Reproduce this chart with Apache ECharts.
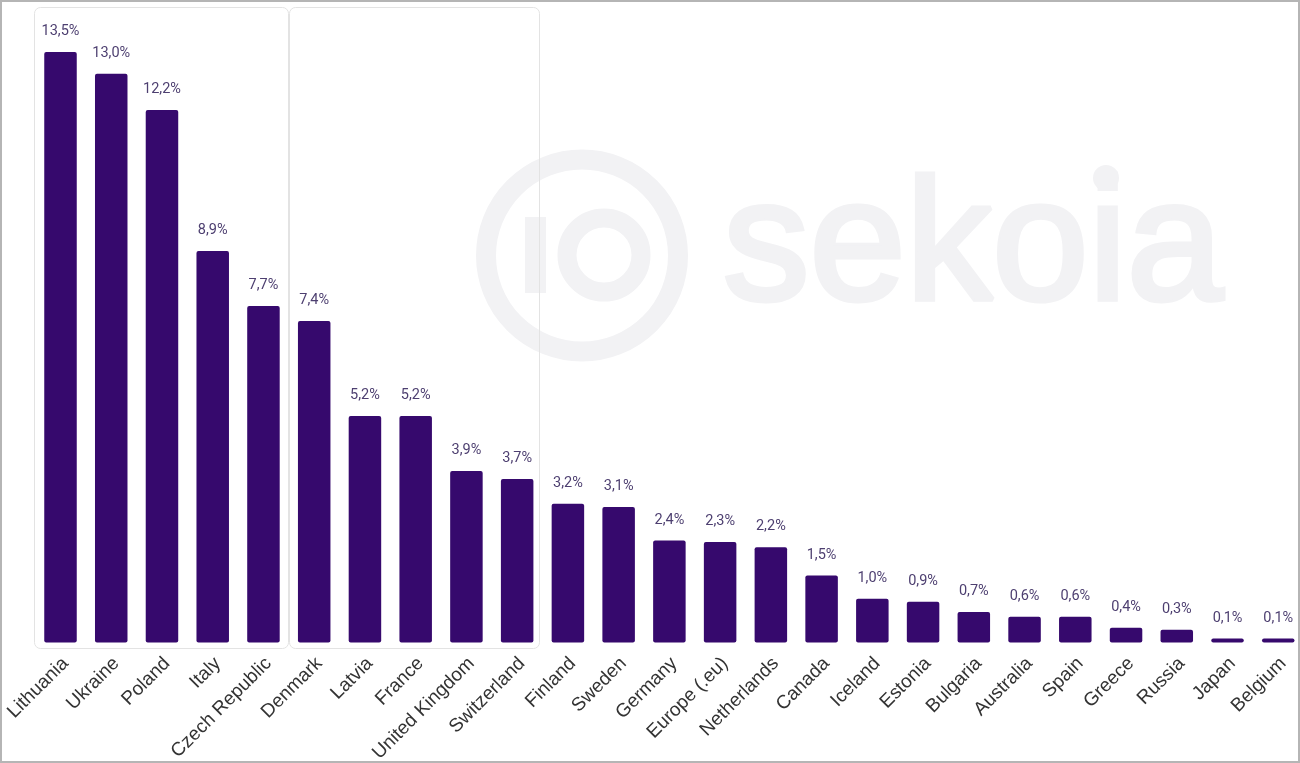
<!DOCTYPE html>
<html lang="en">
<head>
    <meta charset="utf-8">
    <title>Sekoia - countries</title>
    <script src="https://cdn.jsdelivr.net/npm/echarts@6/dist/echarts.min.js"></script>
    <style>
        html, body { margin: 0; padding: 0; background: #fff; }
        #main { width: 1300px; height: 763px; }
    </style>
</head>
<body>
<div id="main"></div>
<script type="text/javascript">
    var categories = ['Lithuania', 'Ukraine', 'Poland', 'Italy', 'Czech Republic', 'Denmark', 'Latvia', 'France',
        'United Kingdom', 'Switzerland', 'Finland', 'Sweden', 'Germany', 'Europe (.eu)', 'Netherlands', 'Canada',
        'Iceland', 'Estonia', 'Bulgaria', 'Australia', 'Spain', 'Greece', 'Russia', 'Japan', 'Belgium'];
    // bar heights as measured, the printed labels are rounded differently in places
    var values = [13.5, 13.0, 12.17, 8.95, 7.69, 7.35, 5.18, 5.18, 3.92, 3.74, 3.17, 3.1, 2.33, 2.3, 2.18, 1.53,
        1.0, 0.93, 0.7, 0.59, 0.59, 0.34, 0.29, 0.09, 0.09];
    var valueLabels = ['13,5%', '13,0%', '12,2%', '8,9%', '7,7%', '7,4%', '5,2%', '5,2%', '3,9%', '3,7%', '3,2%',
        '3,1%', '2,4%', '2,3%', '2,2%', '1,5%', '1,0%', '0,9%', '0,7%', '0,6%', '0,6%', '0,4%', '0,3%', '0,1%', '0,1%'];

    var myChart = echarts.init(document.getElementById('main'));

    var wm = '#f2f2f4';
    var option = {
        animation: false,
        grid: { left: 35.13, top: 12.5, width: 1268.5, height: 630, outerBoundsMode: 'none' },
        xAxis: {
            type: 'category',
            data: categories,
            axisLine: { show: false },
            axisTick: { show: false },
            axisLabel: {
                interval: 0,
                rotate: 45,
                margin: 23,
                padding: [0, -7, 0, 0],
                fontFamily: 'Liberation Sans',
                fontSize: 19,
                color: '#333333'
            }
        },
        yAxis: { type: 'value', min: 0, max: 14.4, show: false },
        series: [
            {
                type: 'bar',
                data: values,
                barWidth: 32.5,
                itemStyle: { color: '#36096d', borderRadius: 2 },
                label: {
                    show: true,
                    position: 'top',
                    distance: 13,
                    fontFamily: 'Roboto',
                    fontSize: 14.5,
                    color: '#4d3f70',
                    formatter: function (p) { return valueLabels[p.dataIndex]; }
                }
            }
        ],
        graphic: [
            // watermark
            { type: 'circle', z: -10, shape: { cx: 582, cy: 255.5, r: 96 }, style: { fill: 'none', stroke: wm, lineWidth: 20 } },
            { type: 'rect', z: -10, shape: { x: 525, y: 217, width: 21, height: 76 }, style: { fill: wm } },
            { type: 'circle', z: -10, shape: { cx: 604, cy: 255, r: 37 }, style: { fill: 'none', stroke: wm, lineWidth: 19 } },
            { type: 'text', z: -10, x: 723, y: 338, style: { text: 'sekoia', font: '173px "Liberation Sans"', fill: wm, stroke: wm, lineWidth: 5, textVerticalAlign: 'bottom' } },
            { type: 'circle', z: -10, shape: { cx: 1106, cy: 178, r: 13 }, style: { fill: wm } },
            // the two framed groups
            { type: 'rect', z: 5, shape: { x: 34.5, y: 7.5, width: 254, height: 641, r: 6 }, style: { fill: 'none', stroke: '#e3e3e3', lineWidth: 1 } },
            { type: 'rect', z: 5, shape: { x: 289.5, y: 7.5, width: 250, height: 641, r: 6 }, style: { fill: 'none', stroke: '#e3e3e3', lineWidth: 1 } },
            // outer border of the picture
            { type: 'rect', z: 6, shape: { x: 1, y: 1, width: 1298, height: 761 }, style: { fill: 'none', stroke: '#b5b5b5', lineWidth: 2 } }
        ]
    };

    myChart.setOption(option);
</script>
</body>
</html>
